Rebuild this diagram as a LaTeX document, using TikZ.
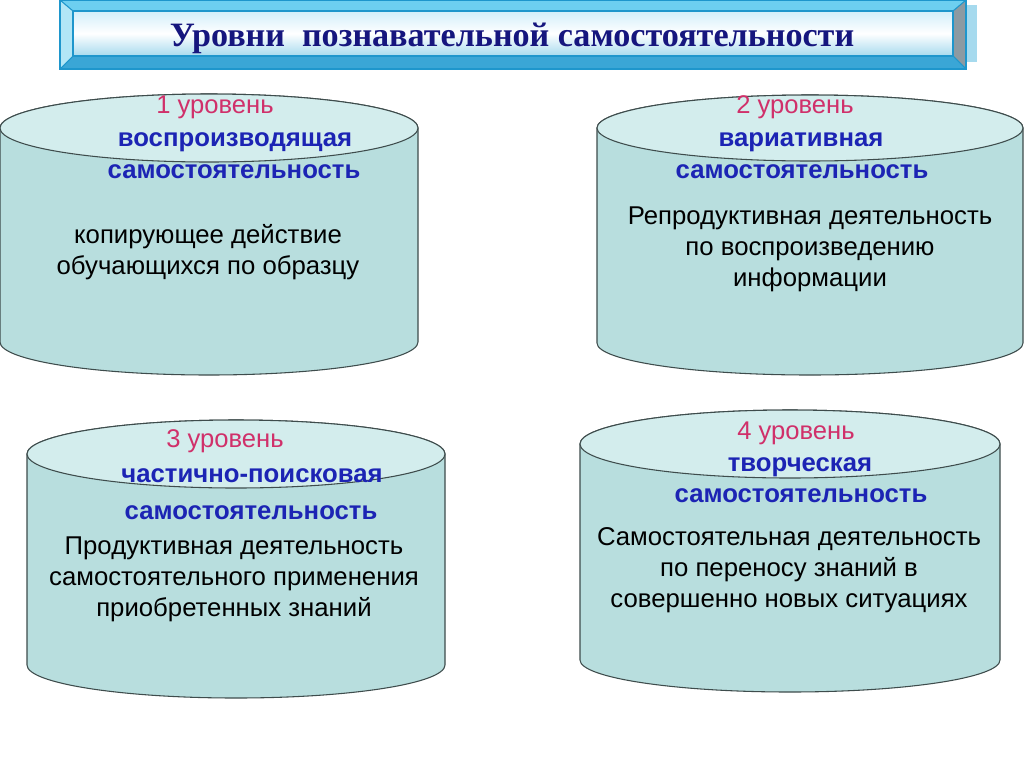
\documentclass[tikz,border=0pt]{standalone}
\usepackage{fontspec}
\setmainfont{Liberation Sans}
\newfontfamily\titlefont{Liberation Serif}
\usetikzlibrary{shadings}
\definecolor{cylbody}{HTML}{B8DEDE}
\definecolor{cyltop}{HTML}{D3EDED}
\definecolor{cylline}{HTML}{3E4C4C}
\definecolor{lvlred}{HTML}{D0306A}
\definecolor{lvlblue}{HTML}{1C24B4}
\definecolor{titleblue}{HTML}{16167E}
\definecolor{frameline}{HTML}{1E96CC}
\definecolor{facetop}{HTML}{6DCFF0}
\definecolor{faceleft}{HTML}{B2E6F6}
\definecolor{facebot}{HTML}{3AA6D6}
\definecolor{faceright}{HTML}{8C9AA2}
\definecolor{shadowblue}{HTML}{A6DAEE}
\definecolor{innertop}{HTML}{D2EEFA}
\tikzset{
  lvl/.style={text=lvlred, font=\fontsize{19.2pt}{23pt}\selectfont, inner sep=0pt},
  kind/.style={text=lvlblue, font=\bfseries\fontsize{19.3pt}{23pt}\selectfont, inner sep=0pt},
  desc/.style={text=black, font=\fontsize{19.3pt}{23.2pt}\selectfont, align=center, inner sep=0pt},
  cylbody/.style={fill=cylbody, draw=cylline, line width=0.8pt},
  cyltop/.style={fill=cyltop, draw=cylline, line width=0.8pt},
}
% #1 cx, #2 top centre y, #3 bottom centre y, #4 rx, #5 ry top, #6 ry bottom
\newcommand{\mycyl}[6]{%
  \path[cylbody] (#1-#4,#2) -- (#1-#4,#3)
    arc[start angle=180, end angle=0, x radius=#4, y radius=#6]
    -- (#1+#4,#2)
    arc[start angle=0, end angle=-180, x radius=#4, y radius=#5] -- cycle;
  \path[cyltop] (#1,#2) ellipse [x radius=#4, y radius=#5];
}
\begin{document}
\begin{tikzpicture}[x=0.75pt,y=-0.75pt]
\useasboundingbox (0,0) rectangle (1024,768);
\fill[white] (0,0) rectangle (1024,768);

% title banner
\fill[shadowblue] (966,5) rectangle (977,62);
\fill[facetop] (60,0) -- (966,0) -- (953,11) -- (73,11) -- cycle;
\fill[faceleft] (60,0) -- (73,11) -- (73,56) -- (60,69) -- cycle;
\fill[facebot] (60,69) -- (73,56) -- (953,56) -- (966,69) -- cycle;
\fill[faceright] (966,0) -- (966,69) -- (953,56) -- (953,11) -- cycle;
\shade[top color=innertop, bottom color=shadowblue, middle color=white] (73,11) rectangle (953,56);
\draw[frameline, line width=1.4pt] (60,0) rectangle (966,69);
\draw[frameline, line width=1.2pt] (73,11) rectangle (953,56);
\draw[frameline, line width=0.8pt] (60,0) -- (73,11) (966,0) -- (953,11) (60,69) -- (73,56) (966,69) -- (953,56);
\node[text=titleblue, font=\titlefont\bfseries\fontsize{25.6pt}{28pt}\selectfont, inner sep=0pt] (title) at (512,38) {Уровни\ \ познавательной самостоятельности};

% cylinder 1
\mycyl{209}{128}{342}{209}{34}{33}
\node[lvl] (l1) at (215,107) {1 уровень};
\node[kind] (k1a) at (235,142) {воспроизводящая};
\node[kind] (k1b) at (234,172) {самостоятельность};
\node[desc] (d1) at (208,252) {копирующее действие\\обучающихся по образцу};

% cylinder 2
\mycyl{810}{128}{343}{213}{33}{32}
\node[lvl] (l2) at (795,107) {2 уровень};
\node[kind] (k2a) at (801,142) {вариативная};
\node[kind] (k2b) at (802,172) {самостоятельность};
\node[desc] (d2) at (810,249) {Репродуктивная деятельность\\по воспроизведению\\информации};

% cylinder 3
\mycyl{236}{454}{665}{209}{34}{33}
\node[lvl] (l3) at (225,441) {3 уровень};
\node[kind] (k3a) at (252,476) {частично-поисковая};
\node[kind] (k3b) at (251,513) {самостоятельность};
\node[desc] (d3) at (234,579) {Продуктивная деятельность\\самостоятельного применения\\приобретенных знаний};

% cylinder 4
\mycyl{790}{444}{660}{210}{34}{32}
\node[lvl] (l4) at (796,433) {4 уровень};
\node[kind] (k4a) at (800,467) {творческая};
\node[kind] (k4b) at (801,496) {самостоятельность};
\node[desc] (d4) at (789,570) {Самостоятельная деятельность\\по переносу знаний в\\совершенно новых ситуациях};
\end{tikzpicture}
\end{document}
